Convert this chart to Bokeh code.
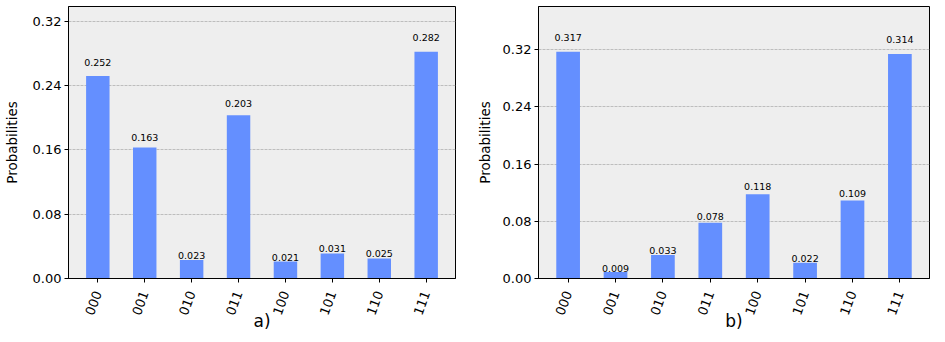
import math
from bokeh.plotting import figure
from bokeh.layouts import row
from bokeh.models import (Range1d, FixedTicker, PrintfTickFormatter,
                          ColumnDataSource)
from bokeh.core.properties import value
from bokeh.embed import file_html
from bokeh.resources import INLINE

states = ["000", "001", "010", "011", "100", "101", "110", "111"]
probs_a = [0.252, 0.163, 0.023, 0.203, 0.021, 0.031, 0.025, 0.282]
probs_b = [0.317, 0.009, 0.033, 0.078, 0.118, 0.022, 0.109, 0.314]
y_ticks = [0.00, 0.08, 0.16, 0.24, 0.32]
panel_names = ["a)", "b)"]

BAR = "#648fff"
BG = "#eeeeee"
FONT = "DejaVu Sans"


def make_panel(probs, name, border_left, border_right, label_standoff):
    xs = list(range(len(states)))
    src = ColumnDataSource(dict(
        x=xs, top=probs,
        ty=[1.05 * p for p in probs],
        txt=["%.3f" % p for p in probs],
    ))
    p = figure(width=border_left + 391 + border_right, height=340,
               output_backend="svg", toolbar_location=None,
               x_range=Range1d(-0.625, len(states) - 1 + 0.625),
               y_range=Range1d(0, max(probs) * 1.2),
               min_border_left=border_left, min_border_right=border_right,
               min_border_top=6, min_border_bottom=62)
    p.background_fill_color = BG
    p.border_fill_color = "white"
    p.outline_line_color = "black"
    p.outline_line_width = 1

    p.vbar(x="x", top="top", width=0.5, bottom=0, source=src,
           fill_color=BAR, line_color=None)
    p.text(x="x", y="ty", text="txt", source=src,
           text_align="center", text_baseline="bottom",
           text_font=value(FONT), text_font_size="9.5px", text_color="black")

    p.xgrid.visible = False
    p.ygrid.grid_line_color = "#b0b0b0"
    p.ygrid.grid_line_dash = "3 1"
    p.ygrid.grid_line_width = 0.8
    p.ygrid.ticker = FixedTicker(ticks=y_ticks)

    for ax in (p.xaxis, p.yaxis):
        ax.axis_line_color = "black"
        ax.axis_line_width = 1
        ax.major_tick_line_color = "black"
        ax.major_tick_in = 0
        ax.major_tick_out = 4
        ax.minor_tick_line_color = None
        ax.major_label_text_font = FONT
        ax.major_label_text_font_size = "13px"
        ax.major_label_text_color = "black"
        ax.major_label_standoff = 3

    p.yaxis.ticker = FixedTicker(ticks=y_ticks)
    p.yaxis.formatter = PrintfTickFormatter(format="%.2f")
    p.yaxis.axis_label = "Probabilities"
    p.yaxis.axis_label_text_font = FONT
    p.yaxis.axis_label_text_font_size = "13.5px"
    p.yaxis.axis_label_text_font_style = "normal"
    p.yaxis.axis_label_text_color = "black"
    p.yaxis.axis_label_standoff = label_standoff

    p.xaxis.ticker = FixedTicker(ticks=xs)
    p.xaxis.major_label_overrides = {i: s for i, s in enumerate(states)}
    p.xaxis.major_label_orientation = math.radians(70)
    p.xaxis.major_label_standoff = 9
    p.xaxis.axis_label = name
    p.xaxis.axis_label_text_font = FONT
    p.xaxis.axis_label_text_font_size = "17px"
    p.xaxis.axis_label_text_font_style = "normal"
    p.xaxis.axis_label_text_color = "black"
    p.xaxis.axis_label_standoff = -10
    return p


pa = make_panel(probs_a, panel_names[0], 64, 10, 10)
pb = make_panel(probs_b, panel_names[1], 73, 8, 7)
layout = row(pa, pb)

open("out.html", "w").write(file_html(layout, INLINE))
